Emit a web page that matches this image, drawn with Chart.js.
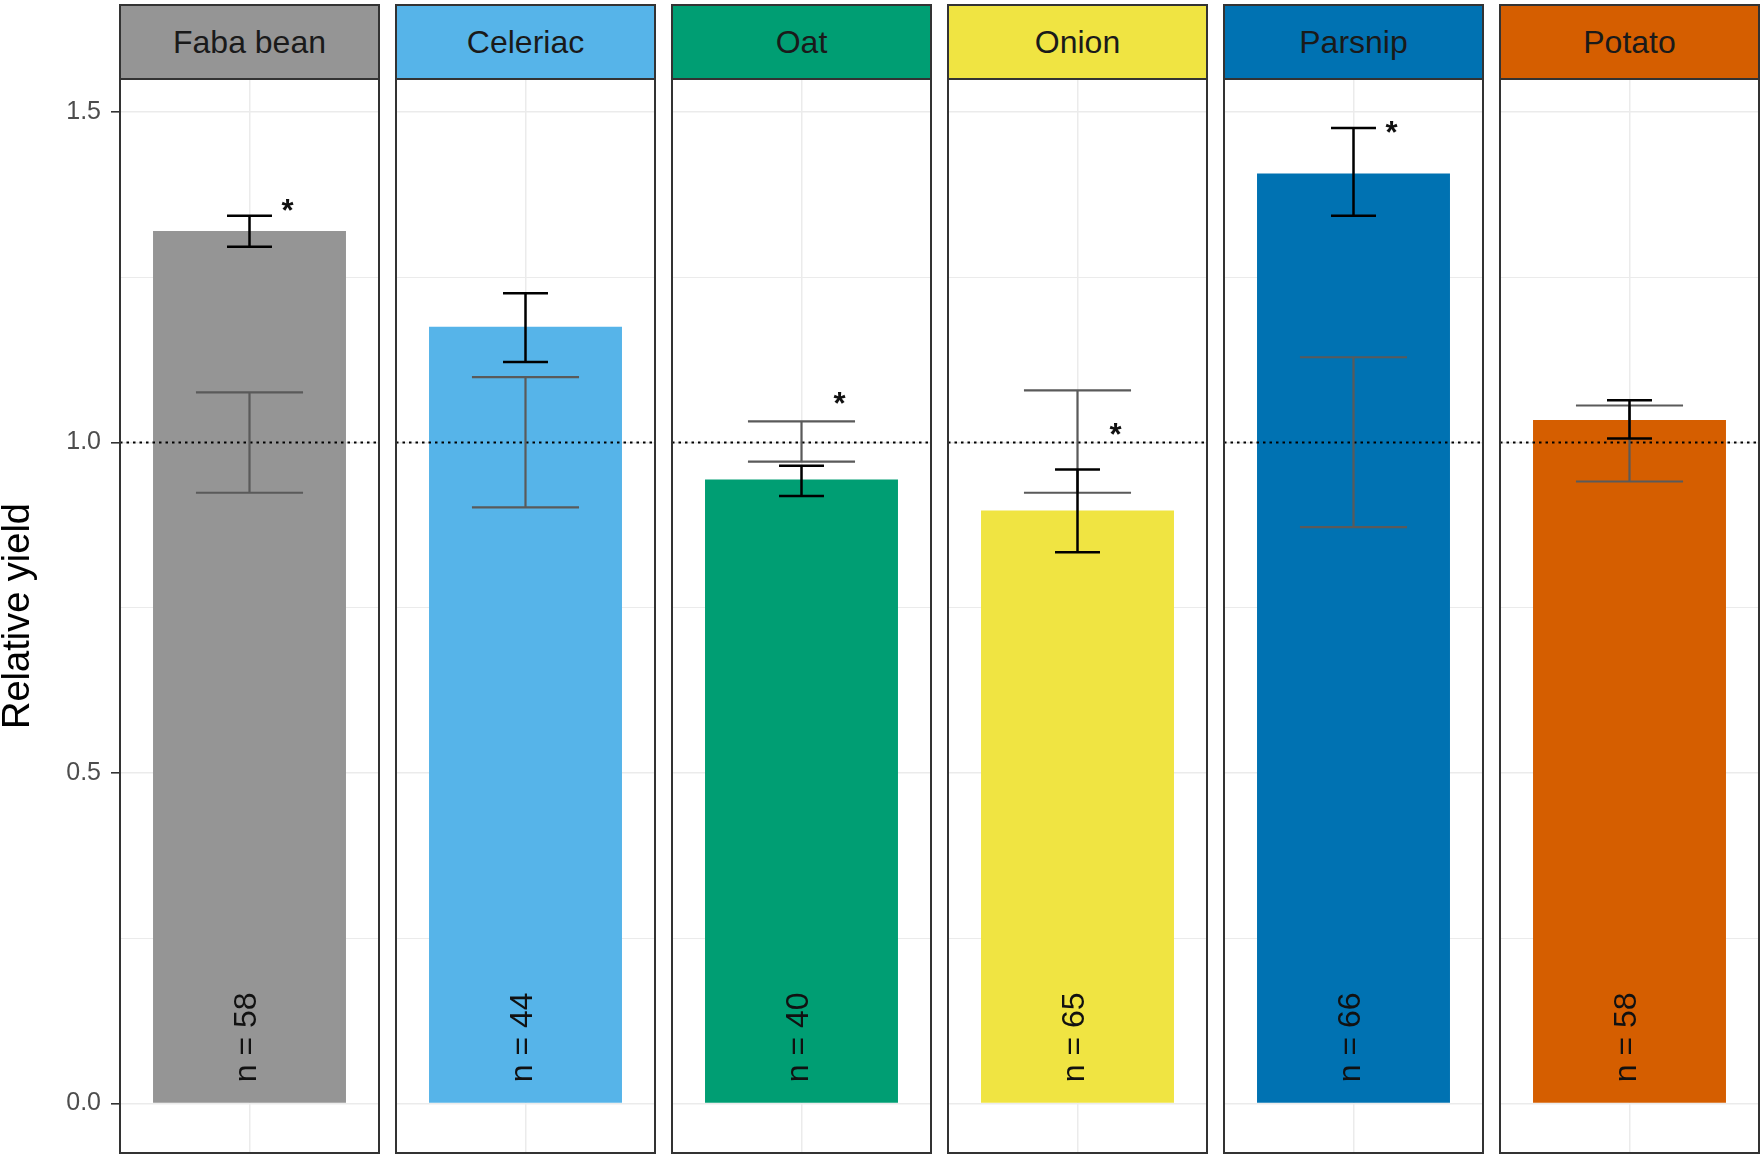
<!DOCTYPE html>
<html>
<head>
<meta charset="utf-8">
<script src="https://cdn.jsdelivr.net/npm/chart.js@4.4.1/dist/chart.umd.min.js"></script>
<style>
  body { margin: 0; background: #fff; }
  #wrap { position: relative; width: 1760px; height: 1158px; font-family: "Liberation Sans", Arial, sans-serif; }
  .strip { position: absolute; top: 4px; height: 76px; box-sizing: border-box; border: 2px solid #333; display: flex; align-items: center; justify-content: center; font-size: 32px; color: #1a1a1a; }
  canvas { position: absolute; top: 0; }
</style>
</head>
<body>
<div id="wrap"></div>
<script>
// values
const crops = ['Faba bean', 'Celeriac', 'Oat', 'Onion', 'Parsnip', 'Potato'];
const cropColors = ['#959595', '#56B4E9', '#009E73', '#F0E442', '#0072B2', '#D55E00'];
const relYield = [1.320, 1.175, 0.944, 0.897, 1.407, 1.034];
const ciLow = [1.296, 1.122, 0.919, 0.834, 1.343, 1.006];
const ciHigh = [1.343, 1.226, 0.965, 0.959, 1.476, 1.064];
const refLow = [0.924, 0.902, 0.971, 0.924, 0.872, 0.941];
const refHigh = [1.076, 1.099, 1.032, 1.079, 1.129, 1.056];
const nObs = [58, 44, 40, 65, 66, 58];
const sigMark = ['*', '', '*', '*', '*', ''];
const sigY = [1.363, null, 1.070, 1.023, 1.481, null];
const yTicks = [0, 0.25, 0.5, 0.75, 1.0, 1.25, 1.5];

const yMin = -0.075;
const yMax = 1.55;
const axisWidth = 120;
const panelWidth = 259;
const panelGap = 17;
const fontFamily = '"Liberation Sans", Arial, sans-serif';

function isMajor(v) {
  return Math.abs(v * 2 - Math.round(v * 2)) < 1e-6;
}

const panelExtras = {
  id: 'panelExtras',
  afterDatasetsDraw(chart) {
    const i = chart.options.plugins.panelExtras.index;
    const ctx = chart.ctx;
    const yScale = chart.scales.y;
    const area = chart.chartArea;
    const bar = chart.getDatasetMeta(0).data[0];
    const cx = bar.x;
    const bw = bar.width;

    ctx.save();
    // reference line at 1
    const y1 = yScale.getPixelForValue(1);
    ctx.strokeStyle = '#000';
    ctx.lineWidth = 1.8;
    ctx.setLineDash([2.5, 4]);
    ctx.beginPath();
    ctx.moveTo(area.left, y1);
    ctx.lineTo(area.right, y1);
    ctx.stroke();
    ctx.setLineDash([]);

    function errorBar(lo, hi, capFrac, color, lw) {
      const top = yScale.getPixelForValue(hi);
      const bot = yScale.getPixelForValue(lo);
      const half = bw * capFrac / 2;
      ctx.strokeStyle = color;
      ctx.lineWidth = lw;
      ctx.beginPath();
      ctx.moveTo(cx, top); ctx.lineTo(cx, bot);
      ctx.moveTo(cx - half, top); ctx.lineTo(cx + half, top);
      ctx.moveTo(cx - half, bot); ctx.lineTo(cx + half, bot);
      ctx.stroke();
    }
    errorBar(refLow[i], refHigh[i], 0.555, '#5a5a5a', 2.2);
    errorBar(ciLow[i], ciHigh[i], 0.233, '#000000', 2.5);

    // n label
    ctx.fillStyle = '#111';
    ctx.font = '32px ' + fontFamily;
    ctx.textAlign = 'center';
    ctx.textBaseline = 'middle';
    ctx.save();
    ctx.translate(cx - 2, yScale.getPixelForValue(0.1));
    ctx.rotate(-Math.PI / 2);
    ctx.fillText('n = ' + nObs[i], 0, 0);
    ctx.restore();

    // significance mark
    if (sigMark[i]) {
      ctx.font = 'bold 31px ' + fontFamily;
      ctx.textBaseline = 'alphabetic';
      ctx.fillText(sigMark[i], cx + 0.197 * bw, yScale.getPixelForValue(sigY[i]) + 18);
    }
    ctx.restore();
  },
  afterDraw(chart) {
    const area = chart.chartArea;
    const ctx = chart.ctx;
    ctx.save();
    ctx.strokeStyle = '#333';
    ctx.lineWidth = 2;
    ctx.strokeRect(area.left, area.top, area.right - area.left, area.bottom - area.top);
    ctx.restore();
  }
};

const wrap = document.getElementById('wrap');

crops.forEach(function (crop, i) {
  const panelLeft = axisWidth + i * (panelWidth + panelGap);
  const first = i === 0;

  const strip = document.createElement('div');
  strip.className = 'strip';
  strip.style.left = (panelLeft - 1) + 'px';
  strip.style.width = (panelWidth + 2) + 'px';
  strip.style.background = cropColors[i];
  strip.textContent = crop;

  const canvas = document.createElement('canvas');
  const canvasLeft = first ? 0 : panelLeft - 2;
  const canvasWidth = first ? axisWidth + panelWidth + 2 : panelWidth + 4;
  canvas.width = canvasWidth;
  canvas.height = 1158;
  canvas.style.left = canvasLeft + 'px';
  wrap.appendChild(canvas);
  wrap.appendChild(strip);

  new Chart(canvas.getContext('2d'), {
    type: 'bar',
    data: {
      labels: [crop],
      datasets: [{
        data: [relYield[i]],
        backgroundColor: cropColors[i],
        borderWidth: 0,
        barPercentage: 0.745,
        categoryPercentage: 1
      }]
    },
    options: {
      responsive: false,
      animation: false,
      events: [],
      layout: { padding: { top: 79, bottom: 5, left: first ? 0 : 2, right: 2 } },
      plugins: {
        legend: { display: false },
        tooltip: { enabled: false },
        panelExtras: { index: i }
      },
      scales: {
        x: {
          ticks: { display: false },
          grid: { offset: false, color: '#ebebeb', lineWidth: 1.5, drawTicks: false },
          border: { display: false },
          afterFit: function (scale) {
            scale.height = 0;
            scale.paddingLeft = 0;
            scale.paddingRight = 0;
          }
        },
        y: {
          min: yMin,
          max: yMax,
          afterBuildTicks: function (scale) {
            scale.ticks = yTicks.map(function (v) { return { value: v }; });
          },
          ticks: {
            display: first,
            padding: 10,
            color: '#4d4d4d',
            font: { size: 25, family: fontFamily },
            callback: function (v) {
              return isMajor(v) ? v.toFixed(1) : '';
            }
          },
          grid: {
            color: '#ebebeb',
            lineWidth: function (c) {
              return c.tick && isMajor(c.tick.value) ? 1.6 : 1;
            },
            drawTicks: first,
            tickLength: 9,
            tickWidth: 1.6,
            tickColor: function (c) {
              return c.tick && isMajor(c.tick.value) ? '#333' : 'rgba(0,0,0,0)';
            }
          },
          border: { display: false },
          title: {
            display: first,
            text: 'Relative yield',
            color: '#000',
            padding: 0,
            font: { size: 38, family: fontFamily, lineHeight: 1.0 }
          },
          afterFit: function (scale) {
            scale.width = first ? axisWidth : 0;
            scale.paddingTop = 0;
            scale.paddingBottom = 0;
          }
        }
      }
    },
    plugins: [panelExtras]
  });
});
</script>
</body>
</html>
